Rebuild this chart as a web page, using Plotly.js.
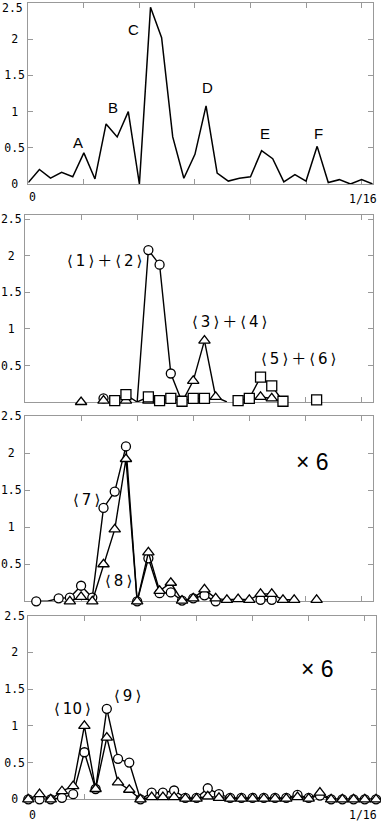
<!DOCTYPE html>
<html>
<head>
<meta charset="utf-8">
<script src="https://cdn.plot.ly/plotly-3.0.1.min.js"></script>
<style>
  html, body { margin: 0; padding: 0; background: #fff; }
  #plot { width: 381px; height: 824px; }
</style>
</head>
<body>
<div id="plot"></div>
<script>
// frequency bins, 0 .. 1/16
var bins = [0,1,2,3,4,5,6,7,8,9,10,11,12,13,14,15,16,17,18,19,20,21,22,23,24,25,26,27,28,29,30,31];

// panel 1: whole spectrum
var total = [0.02,0.2,0.08,0.16,0.1,0.43,0.07,0.83,0.65,1.0,0.0,2.44,2.02,0.65,0.08,0.41,1.08,0.15,0.04,0.08,0.1,0.46,0.35,0.03,0.13,0.04,0.52,0.02,0.06,0.0,0.06,0.0];

// panel 2
var s12 = [null,null,null,null,null,null,null,0.05,null,null,0.0,2.08,1.88,0.39,0.0,null,null,null,null,null,null,null,null,null,null,null,null,null,null,null,null,null];
var s34 = [null,null,null,null,null,0.0,null,0.02,null,0.02,null,0.02,null,null,0.0,0.29,0.84,0.07,0.0,null,0.02,0.07,0.05,0.0,null,null,null,null,null,null,null,null];
var s56 = [null,null,null,null,null,null,null,null,0.02,0.1,0.0,0.07,0.02,0.05,0.01,0.05,0.05,null,null,0.02,0.05,0.34,0.22,0.01,null,null,0.03,null,null,null,null,null];

// panel 3 (x6)
var s7 = [null,0.0,0.0,0.04,0.05,0.21,0.05,1.26,1.48,2.09,0.0,0.58,0.11,0.12,0.01,0.04,0.08,0.0,null,null,null,0.02,0.02,null,null,null,null,null,null,null,null,null];
var s8 = [null,null,null,null,0.0,0.06,0.0,0.5,0.97,1.92,0.0,0.66,0.14,0.25,0.01,0.04,0.16,0.04,0.02,0.03,0.02,0.1,0.1,0.02,0.02,null,0.02,null,null,null,null,null];

// panel 4 (x6)
var s9 = [0,0,0,0.02,0.07,0.64,0.14,1.23,0.55,0.5,0,0.09,0.09,0.12,0.02,0.02,0.15,0.07,0.02,0.02,0.02,0.02,0.02,0.02,0.06,0.02,0.05,0,0,0,0,0];
var s10 = [0,0.07,0,0.11,0.18,1.0,0.14,0.84,0.23,0.13,0,0.03,0.03,0.03,0.01,0.01,0.04,0.02,0.01,0.01,0.01,0.01,0.01,0.01,0.03,0.01,0.09,0,0,0,0,0];

// points where only the line passes, no marker
var bare12 = [10, 14];
var bare34 = [14, 18, 20, 23];
var bare56 = [10];
var bare7 = [2];

var xTicks = [5, 10, 15, 20, 25, 30];
var yTicks = [0, 0.5, 1, 1.5, 2, 2.5];
var yLabelsTop = ['0\u00a0', '0.5', '1\u00a0', '1.5', '2\u00a0', ''];
var yLabels = ['0\u00a0', '0.5', '1\u00a0', '1.5', '2\u00a0', '2.5'];
var yLabelsNoZero = ['', '0.5', '1\u00a0', '1.5', '2\u00a0', '2.5'];

function series(xa, ya, vals, symbol, size, bare) {
  bare = bare || [];
  return {
    x: bins, y: vals, xaxis: xa, yaxis: ya,
    type: 'scatter', mode: 'lines+markers',
    connectgaps: false, cliponaxis: false,
    line: {color: '#000', width: 1.4},
    marker: {
      symbol: symbol,
      size: vals.map(function (v, i) { return bare.indexOf(i) >= 0 ? 0 : size; }),
      color: 'rgb(255,255,255)', opacity: 1,
      line: {color: '#000', width: 1.3}
    },
    hoverinfo: 'skip'
  };
}

var data = [
  {x: bins, y: total, xaxis: 'x', yaxis: 'y', type: 'scatter', mode: 'lines',
   cliponaxis: false, line: {color: '#000', width: 1.5}, hoverinfo: 'skip'},
  series('x2', 'y2', s12, 'circle', 9, bare12),
  series('x2', 'y2', s34, 'triangle-up', 10, bare34),
  series('x2', 'y2', s56, 'square', 10, bare56),
  series('x3', 'y3', s7, 'circle', 9, bare7),
  series('x3', 'y3', s8, 'triangle-up', 10),
  series('x4', 'y4', s9, 'circle', 9),
  series('x4', 'y4', s10, 'triangle-up', 10)
];

function xAx(dom, anchor) {
  return {
    domain: dom, range: [0, 31], anchor: anchor,
    showline: true, linecolor: '#999', linewidth: 1, mirror: 'ticks',
    ticks: 'inside', ticklen: 5, tickcolor: '#999', tickwidth: 1,
    tickvals: xTicks, showticklabels: false,
    showgrid: false, zeroline: false, layer: 'below traces', fixedrange: true
  };
}

function yAx(dom, top, labels, anchor) {
  return {
    domain: dom, range: [0, top], anchor: anchor,
    showline: true, linecolor: '#999', linewidth: 1, mirror: 'ticks',
    ticks: 'inside', ticklen: 5, tickcolor: '#999', tickwidth: 1,
    tickvals: yTicks, ticktext: labels, ticklabeloverflow: 'allow',
    tickfont: {family: 'DejaVu Sans Mono', size: 11.5, color: '#000'},
    showgrid: false, zeroline: false, layer: 'below traces', fixedrange: true
  };
}

var W = 381, H = 824;
function px(x) { return x / W; }
function py(y) { return 1 - y / H; }

function label(x, y, text, font, size, anchor) {
  return {xref: 'paper', yref: 'paper', x: px(x), y: py(y), text: text,
    showarrow: false, xanchor: anchor || 'center', yanchor: 'middle',
    font: {family: font, size: size, color: '#000'}};
}

// component tag such as <1>, drawn with angle brackets
function tag(n) { return '\u27e8\u2009' + n + '\u2009\u27e9'; }
var plus = '\u2009\uff0b\u2009';

var latin = 'Liberation Sans';
var brk = 'DejaVu Sans, Noto Sans CJK JP';
var mono = 'DejaVu Sans Mono';

var layout = {
  width: W, height: H,
  margin: {l: 0, r: 0, t: 0, b: 0, autoexpand: false},
  paper_bgcolor: '#fff', plot_bgcolor: '#fff',
  showlegend: false,
  xaxis: xAx([px(28.3), px(372.7)], 'y'),
  yaxis: yAx([py(184), py(3)], 2.5, yLabelsTop, 'x'),
  xaxis2: xAx([px(25), px(372.7)], 'y2'),
  yaxis2: yAx([py(402), py(215)], 2.56, yLabelsNoZero, 'x2'),
  xaxis3: xAx([px(25), px(372.7)], 'y3'),
  yaxis3: yAx([py(601.3), py(416)], 2.5, yLabelsNoZero, 'x3'),
  xaxis4: xAx([px(28.3), px(376)], 'y4'),
  yaxis4: yAx([py(799.3), py(615.5)], 2.5, yLabels, 'x4'),
  annotations: [
    label(24.5, 7.5, '2.5', mono, 11.5, 'right'),
    label(78, 142, 'A', latin, 15),
    label(113, 107, 'B', latin, 15),
    label(133, 29, 'C', latin, 15),
    label(207, 88, 'D', latin, 15),
    label(265, 133, 'E', latin, 15),
    label(318, 133, 'F', latin, 15),
    label(32, 197, '0', mono, 11.5),
    label(363, 199, '1/16', mono, 11.5),
    label(104, 261, tag(1) + plus + tag(2), brk, 15),
    label(229, 322, tag(3) + plus + tag(4), brk, 15),
    label(298, 359, tag(5) + plus + tag(6), brk, 15),
    label(312, 462, '\u00d7 6', latin, 23),
    label(86, 500, tag(7), brk, 15),
    label(118, 581, tag(8), brk, 15),
    label(317, 669, '\u00d7 6', latin, 23),
    label(72, 709, tag(10), brk, 15),
    label(127, 696, tag(9), brk, 15),
    label(32, 815, '0', mono, 11.5),
    label(363, 815, '1/16', mono, 11.5)
  ]
};

Plotly.newPlot('plot', data, layout, {displayModeBar: false, staticPlot: true});
</script>
</body>
</html>
